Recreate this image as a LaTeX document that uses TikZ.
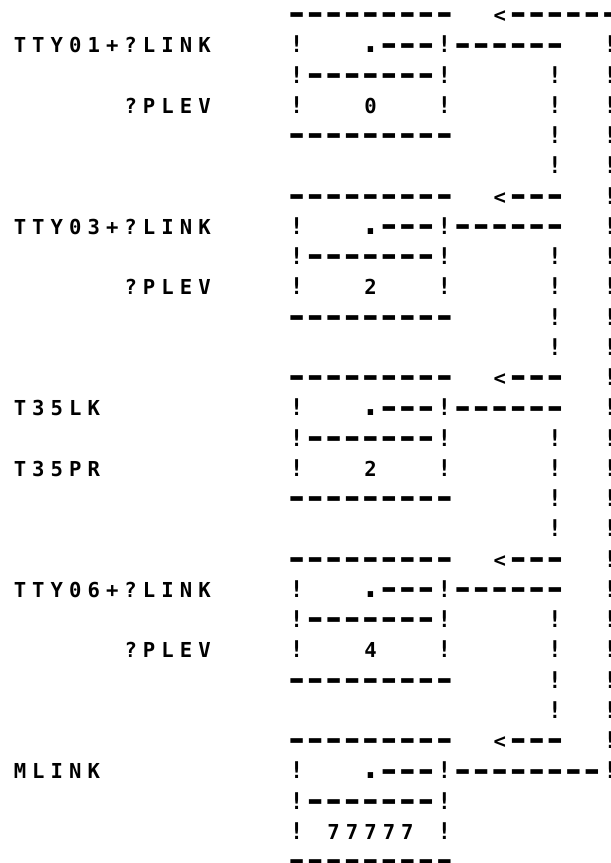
\documentclass[tikz,border=0pt]{standalone}
\usepackage{fontspec}
\newfontfamily\lpfont{DejaVu Sans Mono}
\newlength\lpcw
\setlength\lpcw{18.45pt}
\makeatletter
\def\lp#1{\lp@a#1\relax}
\def\lp@a#1{\ifx#1\relax\else\lp@cell{#1}\expandafter\lp@a\fi}
\def\lp@cell#1{\makebox[\lpcw][c]{\if#1-\lp@dash\else\if#1.\lp@dot\else\if#1!\lp@bang\else#1\fi\fi\fi}}
\def\lp@dash{\makebox[\lpcw][c]{\raisebox{-2.3pt}{\scalebox{1.95}[1.6]{-}}}}
\def\lp@dot{\scalebox{1.6}{.}}
\def\lp@bang{\scalebox{1.1}[1.12]{!}}
\makeatother
% fragment: name, row, column, characters
\newcommand\frag[4]{\node[lp] (#1) at ({10.775+18.45*(#3)},{22.5+30.25*(#2)}) {\lp{#4}};}
\begin{document}
\begin{tikzpicture}[x=1pt,y=-1pt,
  lp/.style={inner sep=0pt, outer sep=0pt, anchor=base west,
    font={\fontsize{20.6}{24}\lpfont\bfseries}}]
\useasboundingbox (0,0) rectangle (611,863);

% ---- block 1 : TTY01
\frag{l1a}{1}{0}{TTY01+?LINK}
\frag{l1b}{3}{6}{?PLEV}
\frag{b1top}{0}{15}{---------}
\frag{a1}{0}{26}{<------}
\frag{b1l}{1}{15}{!}
\frag{b1p}{1}{19}{.---!------}
\frag{b1s}{2}{15}{!-------!}
\frag{b1dl}{3}{15}{!}
\frag{b1v}{3}{19}{0}
\frag{b1dr}{3}{23}{!}
\frag{b1bot}{4}{15}{---------}

% ---- block 2 : TTY03
\frag{l2a}{7}{0}{TTY03+?LINK}
\frag{l2b}{9}{6}{?PLEV}
\frag{b2top}{6}{15}{---------}
\frag{a2}{6}{26}{<---}
\frag{b2l}{7}{15}{!}
\frag{b2p}{7}{19}{.---!------}
\frag{b2s}{8}{15}{!-------!}
\frag{b2dl}{9}{15}{!}
\frag{b2v}{9}{19}{2}
\frag{b2dr}{9}{23}{!}
\frag{b2bot}{10}{15}{---------}

% ---- block 3 : T35
\frag{l3a}{13}{0}{T35LK}
\frag{l3b}{15}{0}{T35PR}
\frag{b3top}{12}{15}{---------}
\frag{a3}{12}{26}{<---}
\frag{b3l}{13}{15}{!}
\frag{b3p}{13}{19}{.---!------}
\frag{b3s}{14}{15}{!-------!}
\frag{b3dl}{15}{15}{!}
\frag{b3v}{15}{19}{2}
\frag{b3dr}{15}{23}{!}
\frag{b3bot}{16}{15}{---------}

% ---- block 4 : TTY06
\frag{l4a}{19}{0}{TTY06+?LINK}
\frag{l4b}{21}{6}{?PLEV}
\frag{b4top}{18}{15}{---------}
\frag{a4}{18}{26}{<---}
\frag{b4l}{19}{15}{!}
\frag{b4p}{19}{19}{.---!------}
\frag{b4s}{20}{15}{!-------!}
\frag{b4dl}{21}{15}{!}
\frag{b4v}{21}{19}{4}
\frag{b4dr}{21}{23}{!}
\frag{b4bot}{22}{15}{---------}

% ---- block 5 : MLINK
\frag{l5a}{25}{0}{MLINK}
\frag{b5top}{24}{15}{---------}
\frag{a5}{24}{26}{<---}
\frag{b5l}{25}{15}{!}
\frag{b5p}{25}{19}{.---!--------!}
\frag{b5s}{26}{15}{!-------!}
\frag{b5dl}{27}{15}{!}
\frag{b5v}{27}{17}{77777}
\frag{b5dr}{27}{23}{!}
\frag{b5bot}{28}{15}{---------}

% ---- short vertical links (column 29)
\foreach \b in {0,...,3}{
  \foreach \k in {2,...,5}{
    \pgfmathtruncatemacro\rr{6*\b+\k}
    \frag{v\rr}{\rr}{29}{!}
  }
}
% ---- long return link (column 32)
\foreach \r in {1,...,24}{
  \frag{rv\r}{\r}{32}{!}
}
\end{tikzpicture}
\end{document}
